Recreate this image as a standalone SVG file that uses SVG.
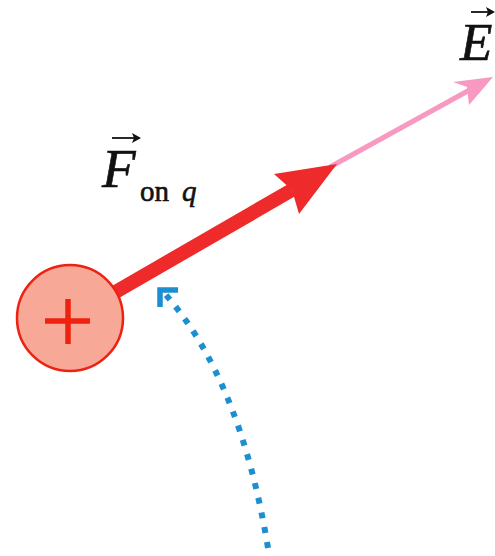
<svg xmlns="http://www.w3.org/2000/svg" width="495" height="556" viewBox="0 0 495 556">
<style>
.lbl{font-family:"Liberation Serif","Times New Roman",serif;fill:#111;stroke:#111;stroke-width:0.6}
.it{font-style:italic}
.vec{stroke:#111;stroke-width:1.8;fill:none}
.vech{fill:#111}
</style>
<rect width="495" height="556" fill="#fff"/>
<g id="connectors">
  <g id="field-E">
    <line x1="330" y1="167" x2="475" y2="87" stroke="#f799c0" stroke-width="5"/>
    <path d="M493,77 L453,82 L467,87 L469,105 Z" fill="#f799c0"/>
  </g>
  <g id="force-F">
    <line x1="112" y1="294" x2="292" y2="190" stroke="#ee2a2a" stroke-width="14"/>
    <path d="M337,164 L274,174 L292,190 L299,214 Z" fill="#ee2a2a"/>
  </g>
  <g id="path-arc">
    <path d="M268,548 Q240.5,380.5 166,295" fill="none" stroke="#1b8fd2" stroke-width="6" stroke-dasharray="6 9"/>
    <polyline points="178,290 160,290 160,307" fill="none" stroke="#1b8fd2" stroke-width="5.5" stroke-linecap="butt" stroke-linejoin="miter"/>
  </g>
</g>
<g id="charge">
  <circle cx="70" cy="318" r="53" fill="#f7a897" stroke="#ee2211" stroke-width="2.5"/>
  <line x1="45" y1="321" x2="90" y2="321" stroke="#ee2211" stroke-width="5.5"/>
  <line x1="68" y1="299" x2="68" y2="344" stroke="#ee2211" stroke-width="5.5"/>
</g>
<g id="label-E">
  <text class="lbl it" x="460" y="60" font-size="53">E</text>
  <line class="vec" x1="471" y1="12" x2="492" y2="12"/>
  <path class="vech" d="M495,12 L486,7 L488,12 L486,17 Z"/>
</g>
<g id="label-F">
  <text class="lbl it" x="102" y="187" font-size="55">F</text>
  <line class="vec" x1="112" y1="138" x2="137" y2="138"/>
  <path class="vech" d="M141,138 L132,133 L134,138 L132,143 Z"/>
  <text class="lbl" x="140" y="201" font-size="29">on</text>
  <text class="lbl it" x="182" y="201" font-size="29">q</text>
</g>
</svg>
